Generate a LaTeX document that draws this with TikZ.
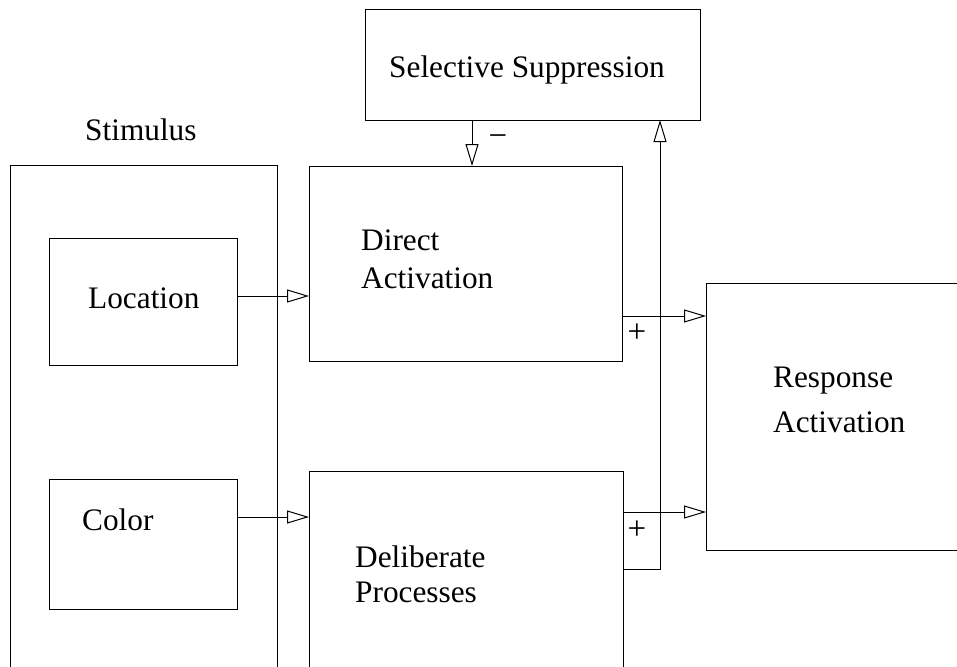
\documentclass[tikz,border=0pt]{standalone}
\usepackage{fontspec}
\setmainfont{Liberation Serif}
\usetikzlibrary{arrows.meta}
\begin{document}
\begin{tikzpicture}[x=1pt,y=-1pt,
  box/.style={draw,line width=1pt,rectangle,inner sep=0pt,outer sep=0pt,anchor=north west},
  lbl/.style={inner sep=0pt,anchor=base west,font=\fontsize{31.3}{37}\selectfont},
  sign/.style={inner sep=0pt,font=\fontsize{33}{38}\selectfont},
  conn/.style={line width=1pt,-{Triangle[open,length=22pt,width=13pt,fill=white,line width=1pt]}},
  wire/.style={line width=1pt}]
\useasboundingbox (0,0) rectangle (957,666);
\clip (0,0) rectangle (957,666);
% boxes
\node[box,minimum width=335pt,minimum height=110pt] (supp) at (365,10) {};
\node[box,minimum width=267pt,minimum height=560pt] (stim) at (10,165) {};
\node[box,minimum width=188pt,minimum height=127pt] (loc) at (49,238) {};
\node[box,minimum width=188pt,minimum height=130pt] (col) at (49,479) {};
\node[box,minimum width=313pt,minimum height=195pt] (direct) at (309,166) {};
\node[box,minimum width=314pt,minimum height=260pt] (delib) at (309,471) {};
\node[box,minimum width=300pt,minimum height=267pt] (resp) at (706,283) {};
% labels
\node[lbl] (tsupp) at (389,78) {Selective Suppression};
\node[lbl] (tstim) at (85,140) {Stimulus};
\node[lbl] (tloc) at (88,308) {Location};
\node[lbl] (tcol) at (82,530) {Color};
\node[lbl] (tdir1) at (361,250) {Direct};
\node[lbl] (tdir2) at (361,288) {Activation};
\node[lbl] (tdel1) at (355,567) {Deliberate};
\node[lbl] (tdel2) at (355,602) {Processes};
\node[lbl] (tres1) at (773,387) {Response};
\node[lbl] (tres2) at (773,432) {Activation};
% signs
\node[sign] (minus) at (498,141) {−};
\node[sign] (plus1) at (637,333) {+};
\node[sign] (plus2) at (637,530) {+};
% connector levels
\coordinate (r1) at (0,296);
\coordinate (r2) at (0,517);
\coordinate (r3) at (0,316);
\coordinate (r4) at (0,512);
\coordinate (c1) at (472,0);
\coordinate (fb) at (660,569);
% connectors
\draw[conn] (loc.east |- r1) -- (direct.west |- r1);
\draw[conn] (col.east |- r2) -- (delib.west |- r2);
\draw[conn] (direct.east |- r3) -- (resp.west |- r3);
\draw[conn] (delib.east |- r4) -- (resp.west |- r4);
\draw[conn] (supp.south -| c1) -- (direct.north -| c1);
\draw[conn] (delib.east |- fb) -| (supp.south -| fb);
\end{tikzpicture}
\end{document}
